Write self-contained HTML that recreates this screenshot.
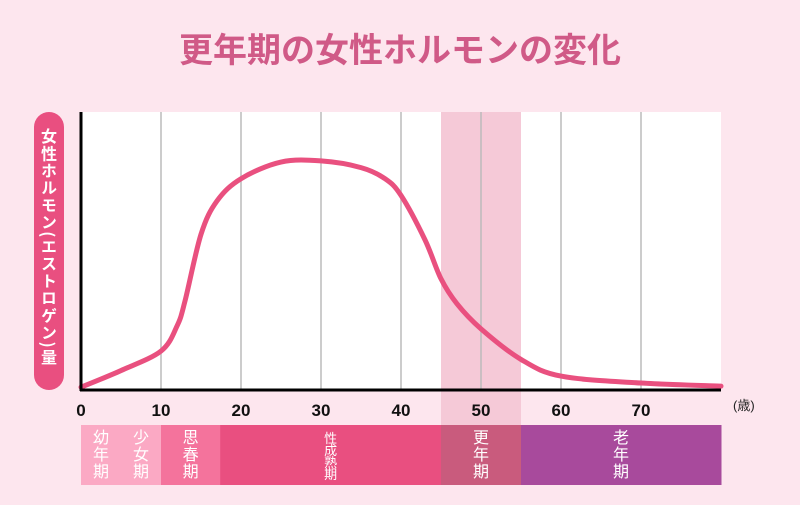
<!DOCTYPE html>
<html><head><meta charset="utf-8"><style>
body{margin:0;width:800px;height:500px;background:#fde6ee;overflow:hidden;font-family:"Liberation Sans","Noto Sans CJK JP",sans-serif}
</style></head><body>
<svg width="800" height="500" id="svg">
<text x="400" y="62" text-anchor="middle" font-size="34" font-weight="bold" fill="#d05a87" font-family="Liberation Sans,Noto Sans CJK JP,sans-serif">更年期の女性ホルモンの変化</text>
<rect x="81" y="112" width="640" height="278" fill="#fff"/>
<g id="grid"></g>
<rect x="34" y="112" width="30" height="278" rx="15" fill="#e94f80"/>
<text x="49" y="128" font-size="16" font-weight="bold" fill="#fff" writing-mode="tb" glyph-orientation-vertical="0" letter-spacing="1.2" font-family="Noto Sans CJK JP,sans-serif">女性ホルモン(エストロゲン)量</text>
<path id="curve" fill="none" stroke="#e9507f" stroke-width="5" stroke-linecap="round"/>
<line x1="81" y1="112" x2="81" y2="391" stroke="#000" stroke-width="3"/>
<line x1="80" y1="390" x2="721" y2="390" stroke="#000" stroke-width="3"/>
<g id="ticks"></g>
<text x="733" y="410" font-size="13" fill="#222">(歳)</text>
<g id="stages"></g>
</svg>
<script>
const ages=[0,5,10,12,13,15,17,20,25,30,35,38,40,43,45,47,50,55,60,70,80];
const levels=[1,7,14,23,32,56,68,76,82,82.4,80,76,70,54,40,31,22,11,5,2.5,1.4];
const tickLabels=[0,10,20,30,40,50,60,70];
const bandRange=[45,55];
const stageNames=["幼年期","少女期","思春期","性成熟期","更年期","老年期"];
const stageStarts=[0,5,10,17.4,45,55];
const stageEnds=[5,10,17.4,45,55,80];
const stageColors=["#fba9c4","#fba9c4","#f4739c","#e94f80","#c95b7d","#a84a9c"];
const NS="http://www.w3.org/2000/svg";
const X=a=>81+a*8, Y=v=>390-v*2.78;
const grid=document.getElementById('grid');
let band=document.createElementNS(NS,'rect');
band.setAttribute('x',X(bandRange[0]));band.setAttribute('y',112);band.setAttribute('width',X(bandRange[1])-X(bandRange[0]));band.setAttribute('height',318);band.setAttribute('fill','#f5c9d7');


grid.appendChild(band);
const ticks=document.getElementById('ticks');
tickLabels.forEach(t=>{
 if(t>0){let l=document.createElementNS(NS,'line');l.setAttribute('x1',X(t));l.setAttribute('x2',X(t));l.setAttribute('y1',112);l.setAttribute('y2',390);l.setAttribute('stroke','#bbb');l.setAttribute('stroke-width','1.5');
 
 
 grid.appendChild(l);}
 let tx=document.createElementNS(NS,'text');tx.setAttribute('x',X(t));tx.setAttribute('y',416);tx.setAttribute('text-anchor','middle');tx.setAttribute('font-size','17');tx.setAttribute('font-weight','bold');tx.setAttribute('fill','#111');tx.textContent=t;
 
 
 ticks.appendChild(tx);
});
const pts=ages.map((a,i)=>[X(a),Y(levels[i])]);
let d='M'+pts[0].join(',');
for(let i=0;i<pts.length-1;i++){
 const p0=pts[i-1]||pts[i],p1=pts[i],p2=pts[i+1],p3=pts[i+2]||p2;
 const c1=[p1[0]+(p2[0]-p0[0])/6,p1[1]+(p2[1]-p0[1])/6],c2=[p2[0]-(p3[0]-p1[0])/6,p2[1]-(p3[1]-p1[1])/6];
 d+=`C${c1},${c2},${p2}`;
}
document.getElementById('curve').setAttribute('d',d);
const st=document.getElementById('stages');
stageNames.forEach((n,i)=>{
 let r=document.createElementNS(NS,'rect');r.setAttribute('x',X(stageStarts[i]));r.setAttribute('y',425);r.setAttribute('width',X(stageEnds[i])-X(stageStarts[i])+0.5);r.setAttribute('height',60);r.setAttribute('fill',stageColors[i]);
 
 
 st.appendChild(r);
 const cx=(X(stageStarts[i])+X(stageEnds[i]))/2, chars=[...n], lh=chars.length>3?12:17;
 chars.forEach((c,j)=>{
  let t=document.createElementNS(NS,'text');t.setAttribute('x',cx);t.setAttribute('y',443+j*lh);t.setAttribute('text-anchor','middle');t.setAttribute('font-size',chars.length>3?13:16);t.setAttribute('fill','#fff');t.setAttribute('font-family','Noto Sans CJK JP,sans-serif');t.textContent=c;
  
  
  st.appendChild(t);
 });
});
</script>
</body></html>
